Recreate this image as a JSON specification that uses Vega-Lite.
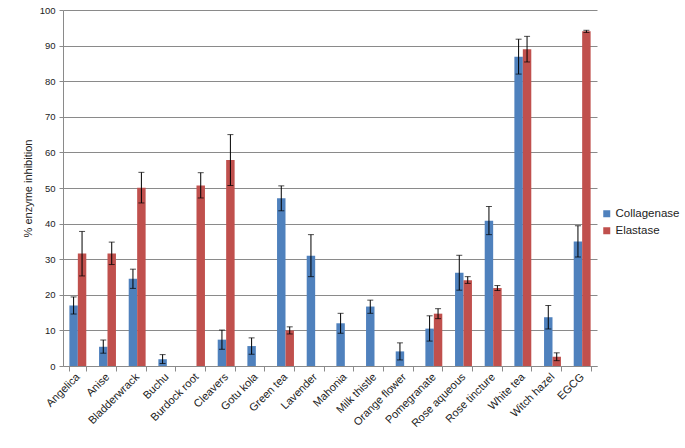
{
  "$schema": "https://vega.github.io/schema/vega-lite/v6.json",
  "width": 534,
  "height": 356,
  "autosize": {"type": "none"},
  "padding": {"left": 63, "top": 10, "right": 88, "bottom": 82},
  "background": "white",
  "config": {
    "font": "Liberation Sans",
    "view": {"stroke": null},
    "axis": {"labelColor": "#222", "titleColor": "#222", "domainColor": "#8a8a8a", "tickColor": "#8a8a8a"},
    "axisY": {"title": "% enzyme inhibition", "titleFontSize": 11, "titleFontWeight": "normal", "titleX": -30, "titleY": 178, "values": [0,10,20,30,40,50,60,70,80,90,100], "labelFontSize": 9.5, "labelPadding": 4, "tickSize": 4, "gridColor": "#8a8a8a", "gridWidth": 1, "labelOverlap": false}
  },
  "data": {
    "values": [
      {"plant": "Angelica", "enzyme": "Collagenase", "value": 17.0, "lo": 14.6, "hi": 19.4},
      {"plant": "Angelica", "enzyme": "Elastase", "value": 31.6, "lo": 25.3, "hi": 37.8},
      {"plant": "Anise", "enzyme": "Collagenase", "value": 5.4, "lo": 3.6, "hi": 7.3},
      {"plant": "Anise", "enzyme": "Elastase", "value": 31.6, "lo": 28.5, "hi": 34.8},
      {"plant": "Bladderwrack", "enzyme": "Collagenase", "value": 24.5, "lo": 21.8, "hi": 27.2},
      {"plant": "Bladderwrack", "enzyme": "Elastase", "value": 50.1, "lo": 45.8, "hi": 54.4},
      {"plant": "Buchu", "enzyme": "Collagenase", "value": 1.9, "lo": 0.7, "hi": 3.2},
      {"plant": "Burdock root", "enzyme": "Elastase", "value": 50.7, "lo": 47.2, "hi": 54.3},
      {"plant": "Cleavers", "enzyme": "Collagenase", "value": 7.4, "lo": 4.7, "hi": 10.1},
      {"plant": "Cleavers", "enzyme": "Elastase", "value": 57.9, "lo": 50.7, "hi": 65.0},
      {"plant": "Gotu kola", "enzyme": "Collagenase", "value": 5.6, "lo": 3.3, "hi": 7.9},
      {"plant": "Green tea", "enzyme": "Collagenase", "value": 47.1, "lo": 43.6, "hi": 50.6},
      {"plant": "Green tea", "enzyme": "Elastase", "value": 10.0, "lo": 9.0, "hi": 11.0},
      {"plant": "Lavender", "enzyme": "Collagenase", "value": 31.0, "lo": 25.1, "hi": 36.9},
      {"plant": "Mahonia", "enzyme": "Collagenase", "value": 12.0, "lo": 9.2, "hi": 14.8},
      {"plant": "Milk thistle", "enzyme": "Collagenase", "value": 16.7, "lo": 14.8, "hi": 18.5},
      {"plant": "Orange flower", "enzyme": "Collagenase", "value": 4.1, "lo": 1.7, "hi": 6.5},
      {"plant": "Pomegranate", "enzyme": "Collagenase", "value": 10.5, "lo": 7.0, "hi": 14.1},
      {"plant": "Pomegranate", "enzyme": "Elastase", "value": 14.7, "lo": 13.3, "hi": 16.1},
      {"plant": "Rose aqueous", "enzyme": "Collagenase", "value": 26.2, "lo": 21.3, "hi": 31.1},
      {"plant": "Rose aqueous", "enzyme": "Elastase", "value": 24.1, "lo": 23.2, "hi": 25.1},
      {"plant": "Rose tincture", "enzyme": "Collagenase", "value": 40.8, "lo": 36.9, "hi": 44.8},
      {"plant": "Rose tincture", "enzyme": "Elastase", "value": 21.9, "lo": 21.2, "hi": 22.6},
      {"plant": "White tea", "enzyme": "Collagenase", "value": 86.9, "lo": 82.0, "hi": 91.8},
      {"plant": "White tea", "enzyme": "Elastase", "value": 89.0, "lo": 85.4, "hi": 92.6},
      {"plant": "Witch hazel", "enzyme": "Collagenase", "value": 13.7, "lo": 10.4, "hi": 17.0},
      {"plant": "Witch hazel", "enzyme": "Elastase", "value": 2.6, "lo": 1.5, "hi": 3.7},
      {"plant": "EGCG", "enzyme": "Collagenase", "value": 35.0, "lo": 30.6, "hi": 39.4},
      {"plant": "EGCG", "enzyme": "Elastase", "value": 94.0, "lo": 93.7, "hi": 94.3}
    ]
  },
  "encoding": {
    "x": {
      "field": "plant",
      "type": "nominal",
      "sort": ["Angelica", "Anise", "Bladderwrack", "Buchu", "Burdock root", "Cleavers", "Gotu kola", "Green tea", "Lavender", "Mahonia", "Milk thistle", "Orange flower", "Pomegranate", "Rose aqueous", "Rose tincture", "White tea", "Witch hazel", "EGCG"],
      "scale": {"paddingInner": 0.43, "paddingOuter": 0.215},
      "axis": {"title": null, "labelAngle": -45, "labelAlign": "right", "labelBaseline": "middle", "labelFontSize": 11, "labelPadding": 4, "tickBand": "extent", "tickSize": 5, "grid": false}
    },
    "xOffset": {"field": "enzyme", "type": "nominal", "scale": {"domain": ["Collagenase", "Elastase"], "paddingInner": 0, "paddingOuter": 0}}
  },
  "layer": [
    {
      "mark": {"type": "bar"},
      "encoding": {
        "y": {
          "field": "value",
          "type": "quantitative",
          "scale": {"domain": [0, 100]},
          "axis": {"title": "% enzyme inhibition", "values": [0,10,20,30,40,50,60,70,80,90,100]}
        },
        "color": {
          "field": "enzyme",
          "type": "nominal",
          "scale": {"domain": ["Collagenase", "Elastase"], "range": ["#4F81BD", "#C0504D"]},
          "legend": {"title": null, "orient": "none", "legendX": 538, "legendY": 198, "symbolType": "square", "symbolSize": 49, "symbolStrokeWidth": 0, "labelFontSize": 11.5, "labelOffset": 3, "rowPadding": 4, "labelColor": "#222"}
        }
      }
    },
    {
      "mark": {"type": "rule", "color": "black", "strokeWidth": 1},
      "encoding": {
        "y": {"field": "lo", "type": "quantitative", "axis": {"title": "% enzyme inhibition", "values": [0,10,20,30,40,50,60,70,80,90,100]}},
        "y2": {"field": "hi"}
      }
    },
    {
      "mark": {"type": "tick", "color": "black", "size": 6, "thickness": 1},
      "encoding": {"y": {"field": "lo", "type": "quantitative", "axis": {"title": "% enzyme inhibition", "values": [0,10,20,30,40,50,60,70,80,90,100]}}}
    },
    {
      "mark": {"type": "tick", "color": "black", "size": 6, "thickness": 1},
      "encoding": {"y": {"field": "hi", "type": "quantitative", "axis": {"title": "% enzyme inhibition", "values": [0,10,20,30,40,50,60,70,80,90,100]}}}
    }
  ]
}
